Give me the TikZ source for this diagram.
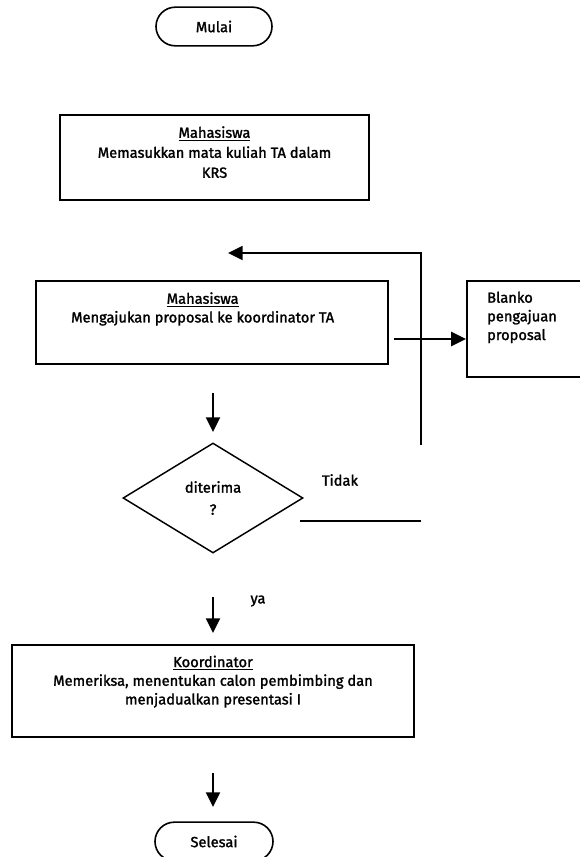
\documentclass[tikz,border=0pt]{standalone}
\usepackage{fontspec}
\setmainfont{Fira Sans}[FakeBold=1.6, AutoFakeBold=1.6]
\usetikzlibrary{arrows.meta, positioning, shapes.geometric, shapes.misc}

\tikzset{
  terminal/.style={draw, line width=1.2pt, rounded rectangle, inner sep=0pt,
    minimum height=29pt, font=\fontsize{11}{13}\selectfont\bfseries},
  proses/.style={draw, line width=1.4pt, rectangle, inner sep=0pt},
  isi/.style={align=center, inner sep=0pt, font=\fontsize{11}{14}\selectfont\bfseries},
  keputusan/.style={draw, line width=1.1pt, diamond, inner sep=0pt, align=center,
    minimum width=135pt, minimum height=82.5pt, font=\fontsize{11}{16.5}\selectfont\bfseries},
  ket/.style={inner sep=0pt, font=\fontsize{11}{13}\selectfont\bfseries},
  panah/.style={line width=1.5pt, -{Triangle[length=11pt, width=10.5pt]}},
  garis/.style={line width=1.2pt}
}

\begin{document}
\begin{tikzpicture}[x=0.75pt, y=-0.75pt]
\useasboundingbox (0,0) rectangle (579,857);

\node[terminal, minimum width=87pt] (mulai) at (214,26.5) {Mulai};

\node[proses, minimum width=231.75pt, minimum height=63.75pt] (krs) at (214.5,157.5) {};
\node[isi, font=\fontsize{11}{15}\selectfont\bfseries, below=9pt of krs.north] (krsisi)
  {\underline{Mahasiswa}\\Memasukkan mata kuliah TA dalam\\KRS};

\node[proses, minimum width=264pt, minimum height=62.25pt] (ajukan) at (212,322.5) {};
\node[isi, below=9pt of ajukan.north, xshift=-7pt] (ajukanisi)
  {\underline{Mahasiswa}\\Mengajukan proposal ke koordinator TA};

\node[proses, minimum width=94pt, minimum height=72pt] (blanko) at (529.5,329) {};
\node[isi, align=left, anchor=north west] (blankoisi) at ([xshift=15.75pt, yshift=-8.5pt]blanko.north west)
  {Blanko\\pengajuan\\proposal};

\node[keputusan] (cek) at (213,498) {diterima\\?};
\node[ket] (tidak) at (340,480) {Tidak};
\node[ket] (ya) at (258,601) {ya};

\node[proses, minimum width=301.5pt, minimum height=69pt] (periksa) at (213,691) {};
\node[isi, below=8.5pt of periksa.north] (periksaisi)
  {\underline{Koordinator}\\Memeriksa, menentukan calon pembimbing dan\\menjadualkan presentasi I};

\node[terminal, minimum width=88.5pt] (selesai) at (214,841.5) {Selesai};

% panah turun
\coordinate (t1a) at (213,393); \coordinate (t1b) at (213,432);
\coordinate (t2a) at (213,597); \coordinate (t2b) at (213,633);
\coordinate (t3a) at (213,773); \coordinate (t3b) at (213,807);
\draw[panah] (t1a) -- (t1b);
\draw[panah] (t2a) -- (t2b);
\draw[panah] (t3a) -- (t3b);

% ke blanko
\coordinate (kirim) at (394,339);
\draw[panah] (kirim) -- (kirim -| blanko.west);

% jalur tidak
\coordinate (balikbawah) at (421,445);
\coordinate (baliksudut) at (421,253);
\coordinate (balikujung) at (228,253);
\draw[garis, -{Triangle[length=11pt, width=10.5pt]}] (balikbawah) -- (baliksudut) -- (balikujung);
\coordinate (tidakkiri) at (300,521);
\draw[garis] (tidakkiri) -- (tidakkiri -| baliksudut);
\end{tikzpicture}
\end{document}
